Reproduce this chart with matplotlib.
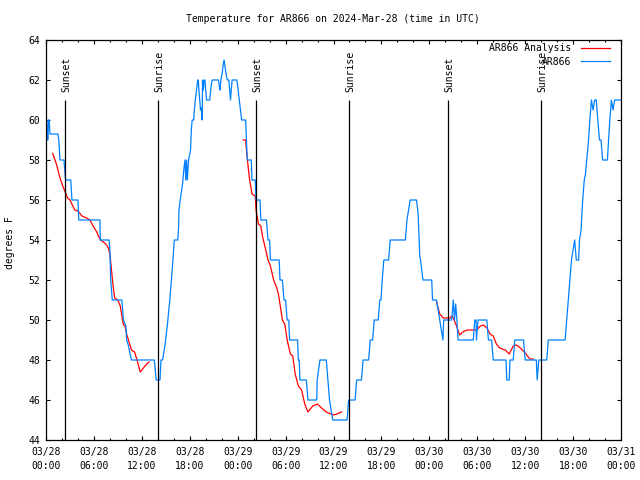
import numpy as np
import matplotlib
matplotlib.use("Agg")
import matplotlib.pyplot as plt

plt.rcParams['font.family'] = ['DejaVu Sans Mono']

# hours since 2024-03-28 00:00 UTC, temperature in degrees F
obs_hours = [0.0, 0.1, 0.12, 0.25, 0.3, 0.4, 0.5, 1.5, 1.6, 1.75, 2.25, 2.35, 2.45, 3.1,
             3.25, 4.0, 4.1, 6.75, 6.8, 7.9, 8.0, 8.1, 8.3, 9.5, 9.7, 10.0, 10.1, 10.3,
             10.7, 13.56, 13.8, 14.27, 14.4, 14.6, 14.9, 15.2, 15.5, 15.8, 16.07, 16.5, 16.6,
             16.65, 16.8, 17.1, 17.25, 17.4, 17.5, 17.6, 17.7, 17.85, 18.1, 18.2, 18.3, 18.5,
             18.55, 18.7, 18.85, 19.0, 19.07, 19.15, 19.25, 19.35, 19.45, 19.55, 19.6, 19.7,
             19.8, 19.9, 20.0, 20.1, 20.5, 20.65, 20.8, 21.6, 21.7, 21.8, 21.9, 22.05, 22.2,
             22.3, 22.45, 22.55, 22.7, 22.9, 23.0, 23.1, 23.2, 23.3, 23.9, 24.0, 24.2, 24.35,
             24.5, 25.0, 25.1, 25.2, 25.7, 25.8, 26.2,
             26.3, 26.8, 26.9, 27.6, 27.8, 28.0, 28.1, 29.2, 29.3, 29.6, 29.8, 30.0, 30.2,
             30.4, 30.5, 31.5, 31.6, 31.7, 31.8, 32.6, 32.8, 33.9, 33.96, 34.3, 35.1, 35.3,
             35.5, 35.9, 37.7, 37.9, 38.7, 38.9, 39.5, 39.7, 40.4, 40.6, 40.9, 41.1, 41.6,
             41.8, 41.95, 42.1, 42.3, 42.9, 43.1, 45.0, 45.2, 45.4, 45.6, 46.4, 46.6, 46.8,
             46.9, 47.2, 48.3, 48.4, 48.9, 49.3, 49.5, 49.7, 49.8, 50.8, 51.0, 51.15, 51.3,
             51.45, 51.6, 53.5, 53.7, 53.85, 53.9, 54.1, 55.2, 55.4, 55.8, 56.0, 57.6, 57.7,
             58.0, 58.1, 58.5, 58.7, 59.8, 60.0, 61.4, 61.5, 61.7, 62.7, 62.9, 65.0, 65.2,
             65.4, 65.6, 65.8, 66.0, 66.2, 66.4, 66.7, 66.8, 67.0, 67.2, 67.4, 67.55, 67.7,
             67.9, 68.1, 68.3, 68.5, 68.7, 68.9, 69.1, 69.3, 69.5, 69.7, 70.3, 70.4, 70.6,
             70.8, 71.0, 71.2, 72.0]
obs_temps = [60, 60, 59, 59, 60, 60, 59.3, 59.3, 59, 58, 58, 57.5, 57, 57,
             56, 56, 55, 55, 54, 54, 53.5, 52, 51, 51, 50, 49.7, 49, 48.75,
             48, 48, 47, 47, 48, 48, 48.75, 49.75, 51, 52.5, 54, 54, 54.6,
             55.5, 56, 56.8, 57.5, 58, 57, 58, 57, 58, 58.5, 59.5, 60, 60,
             60.4, 61, 61.5, 62, 62, 61.5, 61, 60.5, 60.6, 60, 62, 61.5,
             62, 62, 61.5, 61, 61, 61.6, 62, 62, 61.7, 61.5, 62, 62.3, 62.8,
             63, 62.6, 62.3, 62, 62, 61.5, 61, 61.5, 62, 62, 61.7, 61, 60.5,
             60, 60, 59, 58, 58, 57, 57,
             56, 56, 55, 55, 54, 54, 53, 53, 52, 52, 51, 51, 50,
             50, 49, 49, 48, 48, 47, 47, 46, 46, 47, 48, 48, 47,
             46, 45, 45, 46, 46, 47, 47, 48, 48, 49, 49, 50, 50,
             51, 51, 52, 53, 53, 54, 54, 55, 55.5, 56, 56, 55.3, 53.2,
             53, 52, 52, 51, 51, 50, 49.5, 49, 50, 50, 51, 50, 50.8,
             50, 49, 49, 50, 50, 49, 50, 50, 49, 49, 48, 48, 47,
             47, 48, 48, 49, 49, 48, 48, 47, 48, 48, 49, 49, 50,
             51, 52, 53, 53.5, 54, 53, 53, 54, 54.5, 56, 57, 57.3, 58,
             58.8, 60, 61, 60.5, 61, 61, 60, 59, 59, 58, 58, 58.7, 60,
             61, 60.5, 61, 61]

ana_hours = [0.84, 1.3, 1.75, 2.1, 2.4, 2.7, 3.0, 3.3, 3.6, 4.0, 4.5, 5.1, 5.5, 5.9,
             6.35, 6.8, 7.2, 7.6, 7.8, 8.0, 8.2, 8.4, 8.6, 9.0, 9.3, 9.5, 9.7, 9.9, 10.1,
             10.4, 10.7, 11.1, 11.4, 11.8, 12.2, 12.6, 12.9]
ana_temps = [58.33, 57.8, 57.1, 56.7, 56.4, 56.1, 56.0, 55.75, 55.5, 55.45, 55.2, 55.1, 55.0, 54.7,
             54.4, 54.0, 53.9, 53.75, 53.6, 53.3, 52.5, 51.7, 51.1, 51.0, 50.7, 50.2, 49.75, 49.7, 49.3,
             48.9, 48.5, 48.4, 48.0, 47.4, 47.6, 47.8, 47.9]
ana2_hours = [24.7, 25.0, 25.1, 25.3, 25.5, 25.8, 26.2, 26.3, 26.6, 26.9, 27.1, 27.4, 27.8, 28.1,
              28.5, 28.9, 29.1, 29.3, 29.6, 29.9, 30.2, 30.6, 30.9, 31.2, 31.6, 32.0, 32.4, 32.8,
              33.4, 34.0, 34.5, 35.1, 36.0, 36.4, 37.0]
ana2_temps = [59.0, 59.0, 58.5, 57.7, 57.0, 56.3, 56.2, 55.5, 54.8, 54.7, 54.2, 53.7, 53.0, 52.7,
              52.0, 51.6, 51.3, 50.8, 50.0, 49.8, 49.0, 48.3, 48.2, 47.3, 46.7, 46.5, 45.8, 45.4,
              45.7, 45.8, 45.6, 45.4, 45.25, 45.3, 45.4]
ana3_hours = [48.9, 49.3, 49.75, 50.2, 50.6, 50.8, 51.0, 51.4, 51.8, 52.2, 52.7, 53.9, 54.4, 54.8,
              55.2, 55.6, 56.0, 56.4, 56.8, 57.5, 58.0, 58.5, 58.9, 59.4, 60.0, 60.6, 61.0]
ana3_temps = [50.9, 50.3, 50.1, 50.1, 50.1, 50.2, 50.1, 49.7, 49.25, 49.4, 49.5, 49.5, 49.7, 49.75,
              49.6, 49.3, 49.2, 48.8, 48.6, 48.5, 48.3, 48.7, 48.75, 48.6, 48.35, 48.05, 48.05]

sunset_hours = [2.38, 26.33, 50.38]
sunrise_hours = [14.06, 38.0, 61.98]

tick_hours = [0, 6, 12, 18, 24, 30, 36, 42, 48, 54, 60, 66, 72]
tick_labels = ["03/28\n00:00", "03/28\n06:00", "03/28\n12:00", "03/28\n18:00",
               "03/29\n00:00", "03/29\n06:00", "03/29\n12:00", "03/29\n18:00",
               "03/30\n00:00", "03/30\n06:00", "03/30\n12:00", "03/30\n18:00",
               "03/31\n00:00"]

fig = plt.figure(figsize=(6.4, 4.8), dpi=100)
ax = fig.add_axes([46/640, 40/480, 575/640, 400/480])

red = '#ff0000'
blue = '#0080ff'
ax.plot(ana_hours, ana_temps, color=red, lw=0.9, label='AR866 Analysis')
ax.plot(ana2_hours, ana2_temps, color=red, lw=0.9)
ax.plot(ana3_hours, ana3_temps, color=red, lw=0.9)
ax.plot(obs_hours, obs_temps, color=blue, lw=0.9, label='AR866')

for h in sunset_hours:
    ax.vlines(h, 44, 61, color='black', lw=0.9)
    ax.text(h + 0.12, 61.4, 'Sunset', rotation=90, ha='center', va='bottom', fontsize=7)
for h in sunrise_hours:
    ax.vlines(h, 44, 61, color='black', lw=0.9)
    ax.text(h + 0.12, 61.4, 'Sunrise', rotation=90, ha='center', va='bottom', fontsize=7)

ax.set_xlim(0, 72)
ax.set_ylim(44, 64)
ax.set_xticks(tick_hours)
ax.set_xticklabels(tick_labels, fontsize=7, linespacing=1.45)
ax.set_xticks(np.arange(0, 73, 2), minor=True)
ax.set_yticks(np.arange(44, 65, 2))
ax.tick_params(axis='y', labelsize=7)
ax.tick_params(which='both', direction='in', top=True, right=True, width=0.8)
ax.tick_params(which='major', length=3)
ax.tick_params(which='minor', length=1.6)
ax.tick_params(axis='x', pad=5)
ax.tick_params(axis='y', pad=4)
for s in ax.spines.values():
    s.set_linewidth(0.9)

fig.text(333/640, 1 - 19/480, 'Temperature for AR866 on 2024-Mar-28 (time in UTC)',
         ha='center', va='center', fontsize=7)
fig.text(10/640, 1 - 243/480, 'degrees F', rotation=90, ha='center', va='center', fontsize=7)

ax.legend(loc='upper right', bbox_to_anchor=(0.981, 0.992), frameon=False, markerfirst=False,
          fontsize=7, handlelength=3.0, handletextpad=1.0, labelspacing=0.35,
          borderpad=0, borderaxespad=0)

fig.savefig('out.png', dpi=100)
